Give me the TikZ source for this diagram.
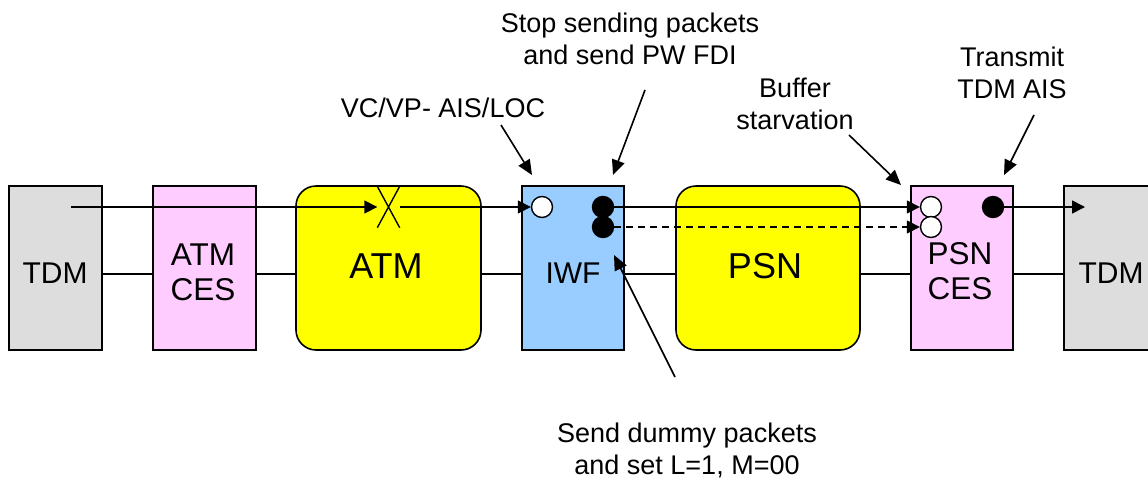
\documentclass[tikz,border=0pt]{standalone}
\usepackage{fontspec}
\setmainfont{Liberation Sans}
\usetikzlibrary{arrows.meta,shapes.misc,backgrounds}
\definecolor{tdmgray}{HTML}{DDDDDD}
\definecolor{cespink}{HTML}{FFCCFF}
\definecolor{netyellow}{HTML}{FFFF00}
\definecolor{iwfblue}{HTML}{99CCFF}
\tikzset{
  unit/.style={draw=black, line width=1.6pt, minimum height=164pt, inner sep=0pt},
  net/.style={unit, rounded corners=20pt, fill=netyellow},
  boxlabel/.style={font=\fontsize{30}{35}\selectfont, align=center, inner sep=0pt},
  ceslabel/.style={boxlabel, font=\fontsize{31.5}{35}\selectfont},
  netlabel/.style={boxlabel, font=\fontsize{36}{40}\selectfont},
  note/.style={font=\fontsize{27}{32}\selectfont, align=center, inner sep=0pt},
  flow/.style={line width=1.6pt, -{Triangle[length=13pt,width=13pt]}},
  plain/.style={line width=1.6pt},
  hole/.style={circle, draw=black, line width=1.4pt, fill=white, minimum size=21pt, inner sep=0pt},
  full/.style={hole, fill=black},
  pointer/.style={line width=1.6pt, -{Triangle[length=15pt,width=13pt]}}
}
\begin{document}
\begin{tikzpicture}[x=1pt,y=-1pt]
\useasboundingbox (0,0) rectangle (1148,480);
\clip (0,0) rectangle (1148,480);

% boxes along the path
\node[unit, fill=tdmgray, minimum width=93pt] (tdmL) at (55.5,268) {};
\node[unit, fill=cespink, minimum width=103pt] (atmces) at (204.5,268) {};
\node[net, minimum width=185pt] (atm) at (388.5,268) {};
\node[unit, fill=iwfblue, minimum width=102pt] (iwf) at (573,268) {};
\node[net, minimum width=184pt] (psn) at (768,268) {};
\node[unit, fill=cespink, minimum width=102pt] (psnces) at (962,268) {};
\node[unit, fill=tdmgray, minimum width=96pt] (tdmR) at (1112,268) {};

% box texts
\node[boxlabel] (tTdmL) at (55,273) {TDM};
\node[ceslabel] (tAtmCes) at (203,272) {ATM\\CES};
\node[netlabel] (tAtm) at (386,266) {ATM};
\node[boxlabel] (tIwf) at (573,273) {IWF};
\node[netlabel] (tPsn) at (765,266) {PSN};
\node[ceslabel] (tPsnCes) at (960,271) {PSN\\CES};
\node[boxlabel] (tTdmR) at (1111,273) {TDM};

% physical links between the boxes
\coordinate (lk) at (0,274);
\draw[plain] (tdmL.east |- lk) -- (atmces.west |- lk);
\draw[plain] (atmces.east |- lk) -- (atm.west |- lk);
\draw[plain] (atm.east |- lk) -- (iwf.west |- lk);
\draw[plain] (iwf.east |- lk) -- (psn.west |- lk);
\draw[plain] (psn.east |- lk) -- (psnces.west |- lk);
\draw[plain] (psnces.east |- lk) -- (tdmR.west |- lk);

% defect points
\node[cross out, draw=black, line width=1.4pt, minimum width=21pt, minimum height=40pt, inner sep=0pt] (xm) at (388.5,207) {};
\node[hole] (iwfIn) at (542,207) {};
\node[full] (iwfOut) at (603,207) {};
\node[full] (iwfDummy) at (603,227) {};
\node[hole] (cesIn) at (931,207) {};
\node[hole] (cesDummy) at (931,227) {};
\node[full] (cesOut) at (993,207) {};

% signal flow
\coordinate (src) at (71,207);
\coordinate (sink) at (1085,207);
\draw[flow] (src) -- (xm.west);
\draw[flow] (xm.east) -- (iwfIn.west);
\draw[flow] (iwfOut.east) -- (cesIn.west);
\draw[flow, dashed, dash pattern=on 7pt off 5pt] (iwfDummy.east) -- (cesDummy.west);
\draw[flow] (cesOut.east) -- (sink);

% annotations
\node[note] (nLoc) at (443,108) {VC/VP- AIS/LOC};
\node[note] (nStop) at (630,39) {Stop sending packets\\and send PW FDI};
\node[note] (nBuf) at (795,104) {Buffer\\starvation};
\node[note] (nAis) at (1012,73) {Transmit\\TDM AIS};
\node[note] (nDummy) at (687,450) {Send dummy packets\\and set L=1, M=00};

\coordinate (aLoc0) at (501,125);  \coordinate (aLoc1) at (532,175);
\coordinate (aStop0) at (645,90);  \coordinate (aStop1) at (613,175);
\coordinate (aBuf0) at (849,135);  \coordinate (aBuf1) at (901,185);
\coordinate (aAis0) at (1034,115); \coordinate (aAis1) at (1004,175);
\coordinate (aDum0) at (675,377);  \coordinate (aDum1) at (614,255);
\draw[pointer] (aLoc0) -- (aLoc1);
\draw[pointer] (aStop0) -- (aStop1);
\draw[pointer] (aBuf0) -- (aBuf1);
\draw[pointer] (aAis0) -- (aAis1);
\draw[pointer] (aDum0) -- (aDum1);
\end{tikzpicture}
\end{document}
